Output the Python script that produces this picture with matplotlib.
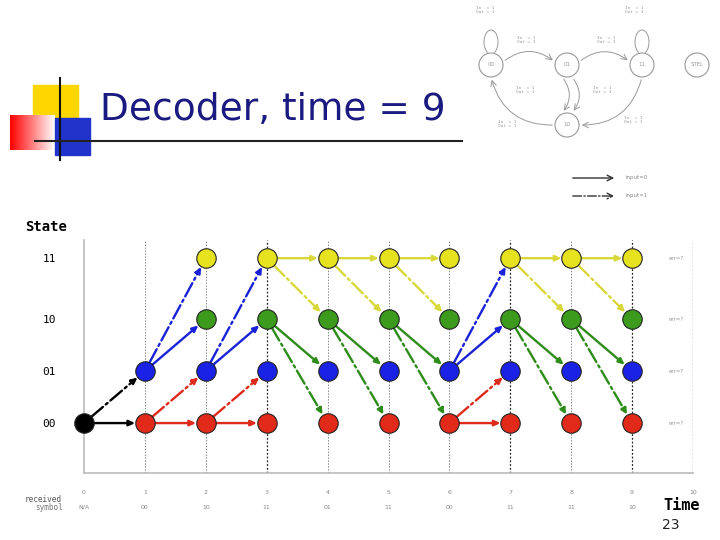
import matplotlib
matplotlib.use("Agg")
import matplotlib.pyplot as plt
from matplotlib.patches import Rectangle, Circle
import numpy as np

states = ["00", "01", "10", "11"]
state_level = {"00": 0.0, "01": 1.0, "10": 2.0, "11": 3.17}
state_color = {"00": "#e22a1a", "01": "#1a22e6", "10": "#3c9a1c", "11": "#e6e21e"}
edge_color = {"00": "#dd2a1a", "01": "#1a22d8", "10": "#2e8c1a", "11": "#d8d83a"}
times = list(range(11))
received = ["N/A", "00", "10", "11", "01", "11", "00", "11", "11", "10"]
# node sets per time
nodes = {0: ["00"], 1: ["00", "01"]}
for t in range(2, 10):
    nodes[t] = ["00", "01", "10", "11"]
low_set = [("01", "11", "dd"), ("01", "10", "s"), ("00", "01", "dd"), ("00", "00", "s")]
high_set = [("11", "11", "s"), ("11", "10", "dd"), ("10", "01", "s"), ("10", "00", "dd")]
edges = {0: [("00", "01", "dd"), ("00", "00", "s")], 1: low_set, 2: low_set,
         3: high_set, 4: high_set, 5: high_set, 6: low_set, 7: high_set, 8: high_set}

fig = plt.figure(figsize=(7.2, 5.4), dpi=100)
bg = fig.add_axes([0, 0, 1, 1])
bg.set_xlim(0, 720); bg.set_ylim(540, 0); bg.axis("off")
bg.add_patch(Rectangle((33, 85), 45, 40, color="#ffd700", zorder=1))
grad = np.linspace(0, 1, 50)[None, :]
bg.imshow(np.dstack([np.ones((1, 50)), grad, grad]), extent=(10, 55, 150, 115), aspect="auto", zorder=2)
bg.add_patch(Rectangle((55, 118), 35, 37, color="#2233cc", zorder=2))
bg.plot([60, 60], [78, 160], color="#111", lw=1.5, zorder=3)
bg.plot([35, 462], [141, 141], color="#222", lw=1.5, zorder=3)
bg.text(100, 110, "Decoder, time = 9", fontsize=27, color="#1a1a80", va="center", ha="left", zorder=4)
bg.text(25, 227, "State", fontsize=10, family="DejaVu Sans Mono", weight="bold", va="center")
bg.text(25, 499, "received", fontsize=5.5, family="DejaVu Sans Mono", color="#555", va="center")
bg.text(35, 508, "symbol", fontsize=5.5, family="DejaVu Sans Mono", color="#777", va="center")
bg.text(663, 505, "Time", fontsize=11, family="DejaVu Sans Mono", weight="bold", va="center")
bg.text(662, 525, "23", fontsize=10, va="center", color="#222")
# state diagram (light)
sd_col = "#999999"
for (cx, cy, lab) in [(491, 65, "00"), (567, 65, "01"), (642, 65, "11"), (567, 125, "10"), (697, 65, "STEL")]:
    bg.add_patch(Circle((cx, cy), 12, fill=False, ec=sd_col, lw=0.8))
    bg.text(cx, cy, lab, fontsize=4, ha="center", va="center", color=sd_col)
for (x, y) in [(476, 10), (517, 40), (597, 40), (625, 10), (516, 90), (593, 90), (498, 124), (624, 120)]:
    bg.text(x, y, "In  = 1\nOut = 1", fontsize=3.2, family="DejaVu Sans Mono", color=sd_col, va="center")
for (a, b, rad) in [((503, 62), (555, 62), -0.4), ((579, 62), (630, 62), -0.4), ((562, 77), (562, 113), -0.4),
                    ((572, 77), (572, 113), -0.4), ((555, 125), (491, 77), -0.4), ((642, 77), (579, 125), -0.4)]:
    bg.annotate("", xy=b, xytext=a, arrowprops=dict(arrowstyle="->", color=sd_col, lw=0.7,
                                                    connectionstyle=f"arc3,rad={rad}"))
for cx in (491, 642):
    ang = np.linspace(-2.6, 2.6, 40)
    bg.plot(cx + 7 * np.sin(ang), 42 - 12 * np.cos(ang), color=sd_col, lw=0.7)
# legend
bg.annotate("", xy=(617, 178), xytext=(570, 178), arrowprops=dict(arrowstyle="->", color="#333", lw=1))
bg.annotate("", xy=(617, 196), xytext=(570, 196), arrowprops=dict(arrowstyle="->", color="#333", lw=1, ls="-."))
bg.text(625, 178, "input=0", fontsize=4, color="#888", va="center")
bg.text(625, 196, "input=1", fontsize=4, color="#888", va="center")

# trellis axes
ax = fig.add_axes([84 / 720, 1 - 473 / 540, 609 / 720, 233 / 540])
ax.set_xlim(0, 10); ax.set_ylim(-0.96, 3.52)
for sp in ["top", "right"]:
    ax.spines[sp].set_visible(False)
for sp in ["left", "bottom"]:
    ax.spines[sp].set_color("#bbbbbb"); ax.spines[sp].set_linewidth(1.2)
ax.set_xticks(times)
ax.set_xticklabels([str(t) for t in times], fontsize=4.5, color="#888")
ax.tick_params(axis="x", length=0, pad=12)
ax.set_yticks([state_level[s] for s in states])
ax.set_yticklabels(states, fontsize=8, family="DejaVu Sans Mono")
ax.tick_params(axis="y", length=0, pad=20)
for t in times[1:]:
    dark = t in (3, 7, 9, 10)
    ax.axvline(t, color="#222" if dark else "#888", ls=(0, (1.5, 1.5)), lw=0.9 if dark else 0.7, zorder=0)
for t, lab in enumerate(received):
    ax.text(t, -1.62, lab, fontsize=4.5, color="#888", ha="center", va="center", clip_on=False)
for s in states:
    ax.text(9.6, state_level[s], "err=?", fontsize=4, color="#999", va="center")

for t, elist in edges.items():
    for a, b, st in elist:
        col = "black" if t == 0 else edge_color[a]
        ax.annotate("", xy=(t + 1, state_level[b]), xytext=(t, state_level[a]),
                    arrowprops=dict(arrowstyle="-|>,head_length=0.35,head_width=0.16", color=col,
                                    lw=1.7, ls="-." if st == "dd" else "-", shrinkA=7, shrinkB=7),
                    zorder=2)
for t, ns in nodes.items():
    for s in ns:
        fc = "black" if t == 0 else state_color[s]
        ax.plot(t, state_level[s], "o", ms=14, mfc=fc, mec="#222", mew=0.8, zorder=3, clip_on=False)

fig.savefig("out.png", dpi=100)
